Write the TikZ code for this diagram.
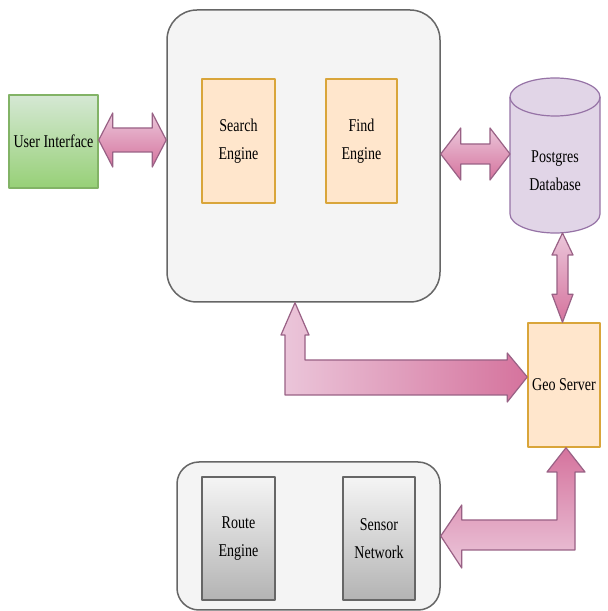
\documentclass[tikz,border=0pt]{standalone}
\usepackage{fontspec}
\setmainfont{Liberation Serif}[FakeStretch=0.78]
\usetikzlibrary{calc}
\definecolor{pkl}{HTML}{EBC6DA}
\definecolor{pkd}{HTML}{D5739D}
\definecolor{pkline}{HTML}{996185}
\definecolor{grl}{HTML}{D5E8D4}
\definecolor{grd}{HTML}{97D077}
\definecolor{grline}{HTML}{82B366}
\definecolor{peach}{HTML}{FFE6CC}
\definecolor{peachline}{HTML}{D9A53A}
\definecolor{gyl}{HTML}{F5F5F5}
\definecolor{gyd}{HTML}{B3B3B3}
\definecolor{gyline}{HTML}{666666}
\definecolor{lav}{HTML}{E1D5E7}
\definecolor{lavline}{HTML}{9673A6}
\definecolor{panel}{HTML}{F4F4F4}
\begin{document}
\begin{tikzpicture}[x=1pt,y=1pt,font=\fontsize{18}{28}\selectfont,line join=round,
  box/.style={draw,line width=1.5pt,inner sep=0pt,align=center},
  container/.style={box,draw=gyline,fill=panel},
  engine/.style={box,draw=peachline,fill=peach,minimum width=73pt,minimum height=124pt},
  grayeng/.style={box,draw=gyline,top color=gyl,bottom color=gyd,minimum width=73pt,minimum height=123pt},
  fat/.style={draw=pkline,line width=1.2pt}]
\useasboundingbox (0,0) rectangle (608,611);
\fill[white] (0,0) rectangle (608,611);

% containers
\node[container,rounded corners=30pt,minimum width=273pt,minimum height=292pt] (big) at (303.5,455) {};
\node[container,rounded corners=22pt,minimum width=263pt,minimum height=148pt] (low) at (308.5,75) {};

% boxes
\node[box,draw=grline,top color=grl,bottom color=grd,minimum width=89pt,minimum height=93pt] (ui) at (53.5,469.5) {User Interface};
\node[engine] (se) at (238.5,470) {Search\\Engine};
\node[engine,minimum width=71pt] (fe) at (361.5,470) {Find\\Engine};
\node[engine,minimum width=72pt] (geo) at (564,226) {Geo Server};
\node[grayeng] (re) at (238.5,72.5) {Route\\Engine};
\node[grayeng,minimum width=72pt] (sn) at (379,72.5) {Sensor\\Network};

% database cylinder
\node[minimum width=90pt,minimum height=155pt,inner sep=0pt,outer sep=0pt] (db) at (555,455.5) {};
\draw[lavline,fill=lav,line width=1.2pt] (510,514) -- (510,397)
  arc[start angle=180,end angle=360,x radius=45pt,y radius=19pt] -- (600,514)
  arc[start angle=0,end angle=180,x radius=45pt,y radius=19pt] -- cycle;
\draw[lavline,line width=1.2pt] (510,514) arc[start angle=180,end angle=360,x radius=45pt,y radius=19pt];
\node[align=center] (dblabel) at (555,440) {Postgres\\Database};

% arrows
\path[fat,top color=pkl,bottom color=pkd] let \p1=(ui.east), \p2=(big.west) in
  (\x1,471pt) -- (\x1+14pt,498pt) -- (\x1+14pt,483pt) -- (\x2-14pt,483pt) -- (\x2-14pt,498pt)
  -- (\x2,471pt) -- (\x2-14pt,444pt) -- (\x2-14pt,459pt) -- (\x1+14pt,459pt) -- (\x1+14pt,444pt) -- cycle;

\path[fat,top color=pkl,bottom color=pkd] let \p1=(big.east), \p2=(db.west) in
  (\x1,457pt) -- (\x1+20pt,483pt) -- (\x1+20pt,467pt) -- (\x2-20pt,467pt) -- (\x2-20pt,483pt)
  -- (\x2,457pt) -- (\x2-20pt,431pt) -- (\x2-20pt,447pt) -- (\x1+20pt,447pt) -- (\x1+20pt,431pt) -- cycle;

\path[fat,top color=pkl,bottom color=pkd] let \p1=(db.south), \p2=(geo.north) in
  (562.5pt,\y1) -- (573pt,\y1-22pt) -- (568pt,\y1-22pt) -- (568pt,\y2+28pt) -- (573pt,\y2+28pt)
  -- (562.5pt,\y2) -- (552pt,\y2+28pt) -- (557pt,\y2+28pt) -- (557pt,\y1-22pt) -- (552pt,\y1-22pt) -- cycle;

\path[fat,left color=pkl,right color=pkd] let \p1=(big.south), \p2=(geo.west) in
  (295pt,\y1) -- (309pt,276pt) -- (305pt,276pt) -- (305pt,251pt) -- (\x2-20pt,251pt) -- (\x2-20pt,258pt)
  -- (\x2,234pt) -- (\x2-20pt,209pt) -- (\x2-20pt,216pt) -- (285pt,216pt) -- (285pt,276pt) -- (281pt,276pt) -- cycle;

\path[fat,top color=pkd,bottom color=pkl] let \p1=(geo.south), \p2=(low.east) in
  (566pt,\y1) -- (585pt,139pt) -- (575pt,139pt) -- (575pt,61pt) -- (\x2+21pt,61pt) -- (\x2+21pt,43pt)
  -- (\x2,75pt) -- (\x2+21pt,106pt) -- (\x2+21pt,91pt) -- (557pt,91pt) -- (557pt,139pt) -- (547pt,139pt) -- cycle;
\end{tikzpicture}
\end{document}
